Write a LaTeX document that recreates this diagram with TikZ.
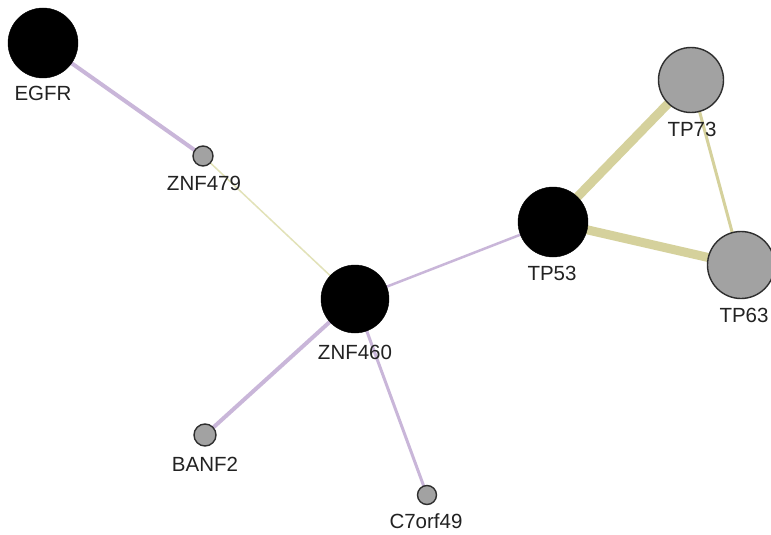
\documentclass[tikz,border=0pt]{standalone}
\usepackage{fontspec}
\setmainfont{Liberation Sans}
\usetikzlibrary{backgrounds}
\definecolor{purp}{HTML}{C9B6D9}
\definecolor{khaki}{HTML}{D5D19C}
\definecolor{paleyel}{HTML}{E2E2B8}
\definecolor{nodegray}{HTML}{A2A2A2}
\definecolor{rimgray}{HTML}{2E2E2E}
\definecolor{txt}{HTML}{222222}
\tikzset{
  bignode/.style={circle, fill=black, draw=black, inner sep=0pt, minimum size=#1},
  graynode/.style={circle, fill=nodegray, draw=rimgray, line width=1.4pt, inner sep=0pt, minimum size=#1},
  lbl/.style={font=\fontsize{20.5}{24}\selectfont, text=txt, inner sep=0pt},
  purpedge/.style={draw=purp, line width=#1},
  khakiedge/.style={draw=khaki, line width=#1},
}
\begin{document}
\begin{tikzpicture}[x=1pt,y=-1pt]
\useasboundingbox (0,0) rectangle (771,535);
% nodes
\node[bignode=70pt] (EGFR) at (43,43) {};
\node[graynode=20pt] (ZNF479) at (203,156) {};
\node[bignode=68pt] (ZNF460) at (355,299) {};
\node[bignode=70pt] (TP53) at (553,222) {};
\node[graynode=65pt] (TP73) at (691,80) {};
\node[graynode=67pt] (TP63) at (741,265) {};
\node[graynode=22pt] (BANF2) at (205,435) {};
\node[graynode=19pt] (C7orf49) at (427,495) {};
% labels
\node[lbl] (EGFR-l) at (43,93) {EGFR};
\node[lbl] (ZNF479-l) at (204,183) {ZNF479};
\node[lbl] (ZNF460-l) at (355,352) {ZNF460};
\node[lbl] (TP53-l) at (552,273) {TP53};
\node[lbl] (TP73-l) at (692,129) {TP73};
\node[lbl] (TP63-l) at (744,315) {TP63};
\node[lbl] (BANF2-l) at (205,464) {BANF2};
\node[lbl] (C7orf49-l) at (426,521) {C7orf49};
% edges
\begin{scope}[on background layer]
\fill[white] (0,0) rectangle (771,535);
\draw[purpedge=4pt] (EGFR.center) -- (ZNF479.center);
\draw[draw=paleyel, line width=1.5pt] (ZNF479.center) -- (ZNF460.center);
\draw[purpedge=2.5pt] (ZNF460.center) -- (TP53.center);
\draw[purpedge=4pt] (ZNF460.center) -- (BANF2.center);
\draw[purpedge=3pt] (ZNF460.center) -- (C7orf49.center);
\draw[khakiedge=9pt] (TP53.center) -- (TP73.center);
\draw[khakiedge=9pt] (TP53.center) -- (TP63.center);
\draw[khakiedge=3pt] (TP73.center) -- (TP63.center);
\end{scope}
\end{tikzpicture}
\end{document}
